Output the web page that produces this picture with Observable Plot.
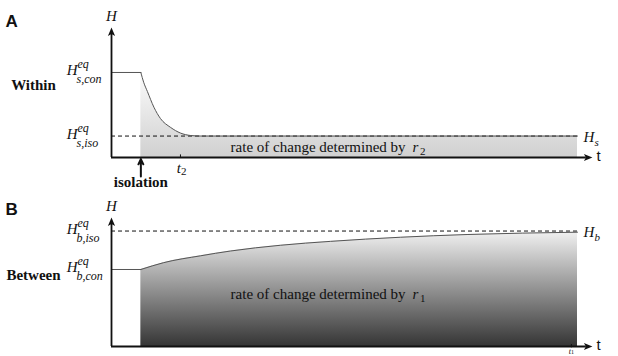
<!DOCTYPE html>
<html><head><meta charset="utf-8">
<script src="https://cdn.jsdelivr.net/npm/d3@7"></script>
<script src="https://cdn.jsdelivr.net/npm/@observablehq/plot@0.6"></script>
<style>
html,body{margin:0;padding:0;background:#fff;}
#chart{width:618px;height:356px;position:relative;overflow:hidden;background:#fff;}
#chart svg{display:block;}
</style></head><body><div id="chart"></div>
<script>
// ---------- values ----------
// t runs 0..100 across the drawn time span, H runs 0..1 up the H axis
const isolationT = 6.3;
const t2T = 14.8;
const t1T = 98.7;

// Panel A - Within
const withinT = [0, 6.3, 6.9, 7.7, 9.1, 10.5, 12.7, 14.8, 17.0, 19.1, 100];
const withinH = [0.654, 0.654, 0.579, 0.508, 0.387, 0.30, 0.231, 0.188, 0.169, 0.165, 0.165];
const withinEqCon = 0.654;
const withinEqIso = 0.165;

// Panel B - Between
const betweenT = [0, 6.3, 11.2, 19.1, 25.5, 36.3, 47.0, 62.0, 76.3, 100];
const betweenH = [0.597, 0.597, 0.650, 0.703, 0.740, 0.785, 0.815, 0.847, 0.868, 0.886];
const betweenEqCon = 0.597;
const betweenEqIso = 0.895;

const panelLetters = ["A", "B"];
const rowLabels = ["Within", "Between"];
const leftSubs = [["s,con", "s,iso"], ["b,con", "b,iso"]];
const rightSubs = ["s", "b"];
const rateSubs = ["2", "1"];
const rateText = "rate of change determined by";
const eventLabel = "isolation";

// ---------- drawing ----------
const SERIF = "'Liberation Serif', 'Times New Roman', serif";
const SANS = "'Liberation Sans', Arial, sans-serif";
const INK = "#111";
const CURVE = "#555";
const X_TIP = 103.2;

const headUp = {draw(c) { c.moveTo(0, 0); c.lineTo(-3.6, 8.5); c.lineTo(0, 6.5); c.lineTo(3.6, 8.5); c.closePath(); }};
const headRight = {draw(c) { c.moveTo(0, 0); c.lineTo(-8.5, -3.6); c.lineTo(-6.5, 0); c.lineTo(-8.5, 3.6); c.closePath(); }};

function gradientDefs(id, top, bottom) {
  return () => {
    const ns = "http://www.w3.org/2000/svg";
    const defs = document.createElementNS(ns, "defs");
    const g = document.createElementNS(ns, "linearGradient");
    g.setAttribute("id", id);
    g.setAttribute("x1", "0"); g.setAttribute("y1", "0");
    g.setAttribute("x2", "0"); g.setAttribute("y2", "1");
    [[0, top], [1, bottom]].forEach(([o, c]) => {
      const s = document.createElementNS(ns, "stop");
      s.setAttribute("offset", o); s.setAttribute("stop-color", c);
      g.appendChild(s);
    });
    defs.appendChild(g);
    return defs;
  };
}

const txt = (data, o) => Plot.text(data, {x: "x", y: "y", text: "s", fontFamily: SERIF, fill: INK, ...o});

function panel(k, tArr, hArr, eqCon, eqIso, cfg) {
  const rows = tArr.map((t, i) => ({t, H: hArr[i]}));
  const flat = rows.filter(d => d.t <= isolationT);
  const curve = rows.filter(d => d.t >= isolationT);
  const levels = [{H: eqCon, sub: leftSubs[k][0]}, {H: eqIso, sub: leftSubs[k][1]}];
  const gid = "grad" + k;
  return Plot.plot({
    width: 618, height: cfg.height,
    marginLeft: 111, marginRight: 41, marginTop: 27, marginBottom: cfg.marginBottom,
    x: {domain: [0, 100], axis: null},
    y: {domain: [0, 1], axis: null},
    style: {background: "transparent", overflow: "visible"},
    marks: [
      gradientDefs(gid, cfg.gradTop, cfg.gradBottom),
      Plot.areaY(curve, {x: "t", y: "H", curve: "monotone-x", fill: `url(#${gid})`}),
      Plot.ruleY([eqIso], {x1: 0, x2: 100, stroke: INK, strokeWidth: 1, strokeDasharray: "4,3"}),
      Plot.line(flat, {x: "t", y: "H", stroke: CURVE, strokeWidth: 1}),
      Plot.line(curve, {x: "t", y: "H", curve: "monotone-x", stroke: CURVE, strokeWidth: 1}),
      // axes with arrow heads
      Plot.ruleX([0], {y1: 0, y2: 0.955, stroke: INK, strokeWidth: 1.8}),
      Plot.ruleY([0], {x1: 0, x2: X_TIP - 1.3, stroke: INK, strokeWidth: 1.8}),
      Plot.dot([{t: 0, H: 1}], {x: "t", y: "H", symbol: headUp, fill: INK, stroke: "none"}),
      Plot.dot([{t: X_TIP, H: 0}], {x: "t", y: "H", symbol: headRight, fill: INK, stroke: "none"}),
      // axis names
      txt([{x: 0, y: 1, s: "H"}], {fontStyle: "italic", fontSize: 15, dy: -11}),
      Plot.text([{x: X_TIP, y: 0, s: "t"}], {x: "x", y: "y", text: "s", fontFamily: SANS, fontSize: 15, fill: INK, textAnchor: "start", dx: 4, dy: -1}),
      // left equilibrium labels
      txt(levels.map(d => ({x: 0, y: d.H, s: "H"})), {fontStyle: "italic", fontSize: 15, textAnchor: "end", dx: -34, dy: -2}),
      txt(levels.map(d => ({x: 0, y: d.H, s: "eq"})), {fontStyle: "italic", fontSize: 12, textAnchor: "start", dx: -34, dy: -8}),
      txt(levels.map(d => ({x: 0, y: d.H, s: d.sub})), {fontStyle: "italic", fontSize: 12, textAnchor: "start", dx: -35, dy: 7}),
      // right label
      txt([{x: 100, y: eqIso, s: "H"}], {fontStyle: "italic", fontSize: 15, textAnchor: "start", dx: 6, dy: 1}),
      txt([{x: 100, y: eqIso, s: rightSubs[k]}], {fontStyle: "italic", fontSize: 11, textAnchor: "start", dx: 17, dy: 6}),
      // rate annotation
      txt([{x: 63.1, y: cfg.rateH, s: rateText}], {fontSize: 15, textAnchor: "end"}),
      txt([{x: 64.6, y: cfg.rateH, s: "r"}], {fontSize: 15, fontStyle: "italic", textAnchor: "start"}),
      txt([{x: 64.6, y: cfg.rateH, s: rateSubs[k]}], {fontSize: 11, textAnchor: "start", dx: 7.5, dy: 4}),
      // panel letter and row label
      Plot.text([{x: 0, y: 1, s: panelLetters[k]}], {x: "x", y: "y", text: "s", fontFamily: SANS, fontWeight: "bold", fontSize: 17, fill: INK, textAnchor: "start", dx: -106, dy: cfg.letterDy}),
      txt([{x: 0, y: eqCon, s: rowLabels[k]}], {fontWeight: "bold", fontSize: 15, textAnchor: "middle", dx: -78, dy: cfg.rowDy}),
      ...cfg.extra
    ]
  });
}

const chart = document.getElementById("chart");

chart.appendChild(panel(0, withinT, withinH, withinEqCon, withinEqIso, {
  height: 190, marginBottom: 33, gradTop: "#fcfcfc", gradBottom: "#d0d0d0",
  rateH: 0.081, rowDy: 13, letterDy: -6,
  extra: [
    Plot.ruleX([t2T], {y1: 0, y2: 0.02, stroke: INK, strokeWidth: 1}),
    txt([{x: t2T, y: 0, s: "t"}], {fontStyle: "italic", fontSize: 15, textAnchor: "end", dx: 0.5, dy: 10.5}),
    txt([{x: t2T, y: 0, s: "2"}], {fontSize: 11, textAnchor: "start", dx: 0.5, dy: 14}),
    Plot.arrow([isolationT], {x: d => d, y1: -0.146, y2: -0.012, stroke: INK, strokeWidth: 2, headLength: 7, headAngle: 50}),
    txt([{x: isolationT, y: 0, s: eventLabel}], {fontWeight: "bold", fontSize: 15, textAnchor: "middle", dy: 25})
  ]
}));

chart.appendChild(panel(1, betweenT, betweenH, betweenEqCon, betweenEqIso, {
  height: 166, marginBottom: 10, gradTop: "#f0f0f0", gradBottom: "#353535",
  rateH: 0.403, rowDy: 6, letterDy: -8,
  extra: [
    Plot.ruleX([t1T], {y1: -0.01, y2: 0.015, stroke: INK, strokeWidth: 1}),
    txt([{x: t1T, y: 0, s: "t"}], {fontStyle: "italic", fontSize: 8, textAnchor: "end", dx: -0.5, dy: 4.5}),
    txt([{x: t1T, y: 0, s: "1"}], {fontSize: 6, textAnchor: "start", dx: -0.5, dy: 5.5})
  ]
}));
</script>
</body></html>
